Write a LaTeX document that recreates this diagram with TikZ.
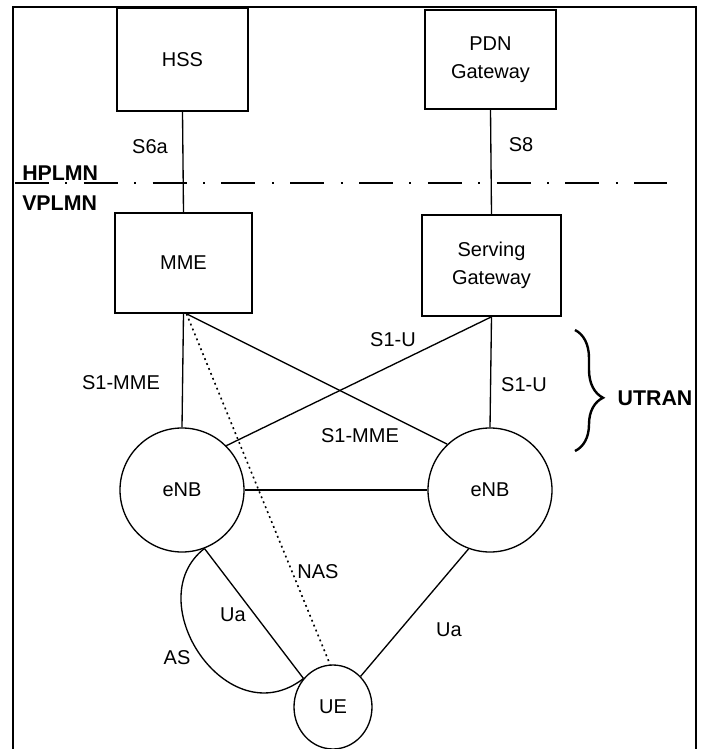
\documentclass[tikz,border=0pt]{standalone}
\usepackage{fontspec}
\setmainfont{Liberation Sans}
\usetikzlibrary{shapes.geometric,decorations.pathreplacing}
\begin{document}
\begin{tikzpicture}[x=0.75pt,y=-0.75pt,
  every node/.style={font=\fontsize{15}{21}\selectfont, inner sep=0pt},
  netbox/.style={draw, line width=1.2pt, rectangle, align=center},
  cell/.style={draw, line width=1pt, circle, minimum size=93pt},
  uenode/.style={draw, line width=1pt, ellipse, minimum width=58.5pt, minimum height=63pt},
  link/.style={line width=1pt},
  boldlbl/.style={font=\fontsize{16}{18}\selectfont\bfseries}]
\useasboundingbox (0,0) rectangle (703,749);
\fill[white] (0,0) rectangle (703,749);
\draw[line width=2pt] (13,749) -- (13,7) -- (696,7) -- (696,749);

% network elements
\node[netbox, minimum width=98.25pt, minimum height=77.25pt] (hss) at (182.5,59.5) {HSS};
\node[netbox, minimum width=98.25pt, minimum height=74.25pt] (pdn) at (490.5,59.5) {PDN\\Gateway};
\node[netbox, minimum width=102.75pt, minimum height=75pt] (mme) at (183.5,263) {MME};
\node[netbox, minimum width=104.25pt, minimum height=75.75pt] (sgw) at (491.5,265.5) {Serving\\Gateway};
\node[cell] (enbl) at (182,490) {eNB};
\node[cell] (enbr) at (490,490) {eNB};
\node[uenode] (ue) at (333,707) {UE};

% HPLMN / VPLMN boundary
\coordinate (dl) at (15,183);
\coordinate (dr) at (667,183);
\draw[line width=1pt, dash pattern=on 25.5pt off 12.3pt on 1.5pt off 12.3pt] (dl) -- (dr);

% connectors
\draw[link] (hss.south) -- (mme.north);
\draw[link] (pdn.south) -- (sgw.north);
\draw[link] (mme.south) -- (enbl.north);
\draw[link] (sgw.south) -- (enbr.north);
\coordinate (mmeo) at ([xshift=2.25pt]mme.south);
\draw[link] (mmeo) -- (enbr.133);
\draw[link] (sgw.south) -- (enbl.45);
\draw[link] (enbl.east) -- (enbr.west);
\draw[line width=1.2pt, dash pattern=on 1.4pt off 2.6pt] (mmeo) -- (ue.94);
\draw[link] (enbl.-69) -- (ue.136);
\draw[link] (enbr.250) -- (ue.48);
\draw[link] (enbl.-69) .. controls +(-67,52) and +(-76,59) .. (ue.136);

% brace
\coordinate (bt) at (575,330);
\coordinate (bb) at (575,451);
\draw[line width=1.8pt, decorate, decoration={brace, amplitude=21pt, aspect=0.56}] (bt) -- (bb);

% labels
\node (s6a) at (150,147) {S6a};
\node (s8) at (521,145) {S8};
\node[boldlbl, anchor=west] (hp) at (22,173) {HPLMN};
\node[boldlbl, anchor=west] (vp) at (22,203) {VPLMN};
\node (s1mmel) at (121,383) {S1-MME};
\node (s1ua) at (393,340) {S1-U};
\node (s1ub) at (524,385) {S1-U};
\node (s1mmem) at (360,436) {S1-MME};
\node (nas) at (318,572) {NAS};
\node (ual) at (233,615) {Ua};
\node (uar) at (449,630) {Ua};
\node (as) at (177,658) {AS};
\node[boldlbl] (utran) at (655,398) {UTRAN};
\end{tikzpicture}
\end{document}
